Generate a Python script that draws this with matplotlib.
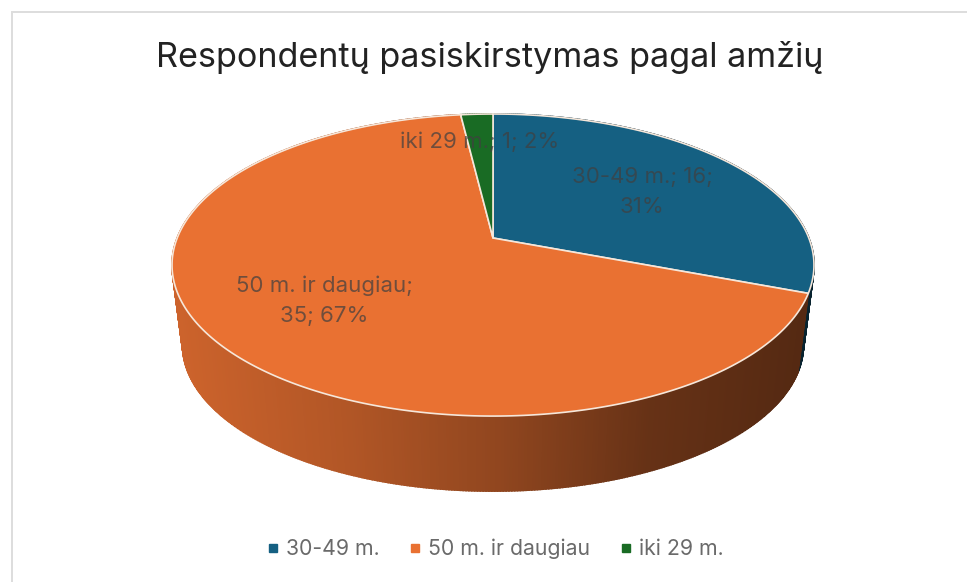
import numpy as np
import matplotlib
matplotlib.use("Agg")
import matplotlib.pyplot as plt
from matplotlib.patches import Rectangle, Polygon

title = "Respondentų pasiskirstymas pagal amžių"
categories = ["30-49 m.", "50 m. ir daugiau", "iki 29 m."]
values = [16, 35, 1]
colors = ["#156082", "#E97132", "#196B24"]

W, H = 967, 582
plt.rcParams["font.family"] = ["Inter", "DejaVu Sans"]
fig = plt.figure(figsize=(W / 100, H / 100), dpi=100, facecolor="white")
ax = fig.add_axes([0, 0, 1, 1])
ax.set_xlim(0, W)
ax.set_ylim(H, 0)
ax.axis("off")

# chart frame
ax.add_patch(Rectangle((12, 12), W - 12 + 5, H, fc="white", ec="#dddddd", lw=1.4))

# projection of the flat disc onto the tilted top face
CX, CY = 493.0, 265.0
A, B, K, APEX = 315.8, 146.2, 0.179, 27.0
DEPTH, SHRINK = 80.0, 0.967


def project(t):
    u, v = np.cos(t), np.sin(t)
    w = 1 + K * v
    return A * u / w, B * v / w + APEX


def top(t):
    x, y = project(t)
    return CX + x, CY - y


def bottom(t):
    x, y = project(t)
    return CX + SHRINK * x, CY + DEPTH - SHRINK * y


shade_x = [172, 350, 500, 650, 813]
shade_k = [0.88, 0.76, 0.62, 0.44, 0.36]


def wall_color(base, x):
    return tuple(c * np.interp(x, shade_x, shade_k) for c in matplotlib.colors.to_rgb(base))


total = sum(values)
angles = 90 - 360 * np.cumsum([0] + values) / total   # clockwise from 12 o'clock
spans = [(np.radians(angles[i]), np.radians(angles[i + 1])) for i in range(len(values))]

# side wall, back strips first
strips = []
for (t0, t1), col in zip(spans, colors):
    ts = np.linspace(t0, t1, max(int(abs(t1 - t0) * 130), 3))
    for a, b in zip(ts[:-1], ts[1:]):
        strips.append((np.sin((a + b) / 2), a, b, col))
for _, a, b, col in sorted(strips, key=lambda s: -s[0]):
    xa, ya = top(a)
    xb, yb = top(b)
    xc, yc = bottom(b)
    xd, yd = bottom(a)
    c = wall_color(col, (xa + xb) / 2)
    ax.add_patch(Polygon([(xa, ya), (xb, yb), (xc, yc), (xd, yd)], closed=True, fc=c, ec=c, lw=1.2))

# top face
for (t0, t1), col in zip(spans, colors):
    ts = np.linspace(t0, t1, 300)
    xs, ys = top(ts)
    pts = [(CX, CY - APEX)] + list(zip(xs, ys))
    ax.add_patch(Polygon(pts, closed=True, fc=col, ec="#f6e7da", lw=1.2, joinstyle="round"))

# data labels
pct = [round(100 * v / total) for v in values]
label_pos = [(642, 192), (324, 301), (480, 142)]
label_text = [
    f"{categories[0]}; {values[0]};\n{pct[0]}%",
    f"{categories[1]};\n{values[1]}; {pct[1]}%",
    f"{categories[2]}; {values[2]}; {pct[2]}%",
]
for (x, y), s in zip(label_pos, label_text):
    ax.text(x, y, s, ha="center", va="center", fontsize=16, color="#404040",
            alpha=0.72, linespacing=1.65)

ax.text(489.5, 58, title, ha="center", va="center", fontsize=24.6, color="#222222")

handles = [plt.Line2D([], [], ls="none", marker="s", ms=5.5, color=c) for c in colors]
fig.legend(handles, categories, ncols=3, loc="center", bbox_to_anchor=(495 / W, 1 - 549 / H),
           frameon=False, fontsize=15.3, labelcolor="#6a6a6a", handlelength=0.6,
           handletextpad=0.3, columnspacing=1.4)

fig.savefig("out.png", dpi=100)
